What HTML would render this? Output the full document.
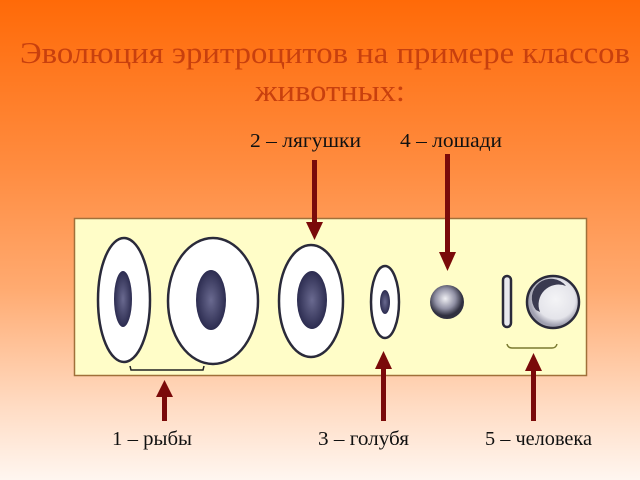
<!DOCTYPE html>
<html><head><meta charset="utf-8"><style>
html,body{margin:0;padding:0;width:640px;height:480px;overflow:hidden}
</style></head><body>
<svg width="640" height="480" viewBox="0 0 640 480" xmlns="http://www.w3.org/2000/svg">
<defs>
<linearGradient id="bg" x1="0" y1="0" x2="0" y2="1">
<stop offset="0" stop-color="#FF6A08"/>
<stop offset="0.35" stop-color="#FF8C40"/>
<stop offset="0.6" stop-color="#FFAA70"/>
<stop offset="0.85" stop-color="#FFDCC4"/>
<stop offset="1" stop-color="#FFF6F0"/>
</linearGradient>
<radialGradient id="nuc"><stop offset="0" stop-color="#6a6a90"/><stop offset="1" stop-color="#2c2c50"/></radialGradient>
<radialGradient id="horse" cx="0.45" cy="0.4"><stop offset="0" stop-color="#f0f0f4"/><stop offset="0.6" stop-color="#9090a4"/><stop offset="1" stop-color="#303040"/></radialGradient>
<radialGradient id="hum" cx="0.55" cy="0.45"><stop offset="0" stop-color="#f4f4f6"/><stop offset="0.75" stop-color="#e4e4ea"/><stop offset="1" stop-color="#a0a0b0"/></radialGradient>
</defs>
<rect width="640" height="480" fill="url(#bg)"/>
<g font-family="Liberation Serif, serif">
<text x="20" y="63" textLength="610" lengthAdjust="spacingAndGlyphs" font-size="31" fill="#C8400E">Эволюция эритроцитов на примере классов</text>
<text x="255" y="101" textLength="150" lengthAdjust="spacingAndGlyphs" font-size="31" fill="#C8400E">животных:</text>
<g font-size="19.5" fill="#111">
<text x="250" y="147" textLength="111" lengthAdjust="spacingAndGlyphs">2 – лягушки</text>
<text x="400" y="147" textLength="102" lengthAdjust="spacingAndGlyphs">4 – лошади</text>
<text x="112" y="445" textLength="80" lengthAdjust="spacingAndGlyphs">1 – рыбы</text>
<text x="318" y="445" textLength="91" lengthAdjust="spacingAndGlyphs">3 – голубя</text>
<text x="485" y="445" textLength="107" lengthAdjust="spacingAndGlyphs">5 – человека</text>
</g>
</g>
<rect x="74.5" y="218.5" width="512" height="157" fill="#FFFDC8" stroke="#A0703A" stroke-width="1.5"/>
<g stroke="#2a2a3a" stroke-width="2.5" fill="#fff">
<ellipse cx="124" cy="300" rx="26" ry="62"/>
<ellipse cx="213" cy="301" rx="45" ry="63"/>
<ellipse cx="311" cy="301" rx="32" ry="56"/>
<ellipse cx="385" cy="302" rx="14" ry="36"/>
<rect x="503" y="276" width="8" height="51" rx="4" fill="#e8e8ee"/>
<circle cx="553" cy="302" r="26" fill="url(#hum)"/>
</g>
<g fill="url(#nuc)">
<ellipse cx="123" cy="299" rx="9" ry="28"/>
<ellipse cx="211" cy="300" rx="15" ry="30"/>
<ellipse cx="312" cy="300" rx="15" ry="29"/>
<ellipse cx="385" cy="302" rx="5" ry="12"/>
</g>
<circle cx="447" cy="302" r="17" fill="url(#horse)"/>
<path d="M536 310 a19 19 0 0 1 30 -24 a20 20 0 0 0 -26 26 z" fill="#3a3a50"/>
<path d="M130 366 L131 370 L203 370 L204 366" fill="none" stroke="#222" stroke-width="1.5"/>
<path d="M507 344 Q508 348 512 348 L552 348 Q556 348 557 344" fill="none" stroke="#7a7a30" stroke-width="1.5"/>
<g fill="#7A0A0A">
<rect x="312" y="160" width="5" height="64"/><polygon points="306,222 323,222 314.5,240"/>
<rect x="445" y="154" width="5" height="100"/><polygon points="439,252 456,252 447.5,271"/>
<rect x="162" y="395" width="5" height="26"/><polygon points="156,397 173,397 164.5,380"/>
<rect x="381" y="367" width="5" height="54"/><polygon points="375,369 392,369 383.5,351"/>
<rect x="531" y="369" width="5" height="52"/><polygon points="525,371 542,371 533.5,353"/>
</g>
</svg>
</body></html>
